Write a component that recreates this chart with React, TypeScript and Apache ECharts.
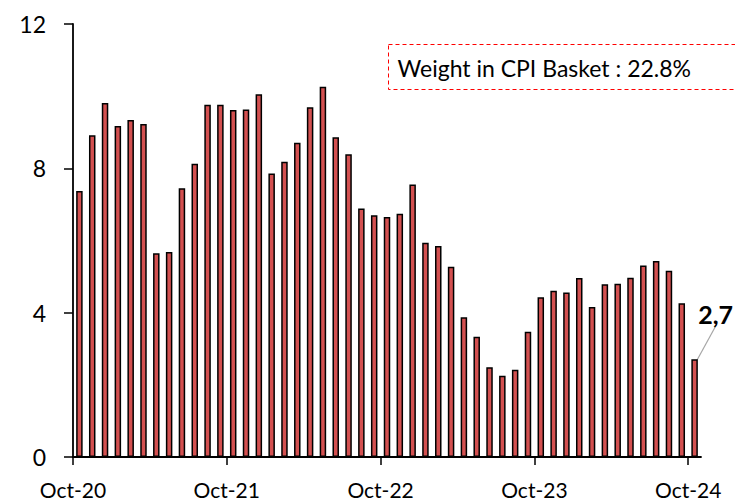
import React, { useEffect, useRef } from "react";
import * as echarts from "echarts";

const months: string[] = [];
const monthNames = ["Oct", "Nov", "Dec", "Jan", "Feb", "Mar", "Apr", "May", "Jun", "Jul", "Aug", "Sep"];
for (let i = 0; i < 49; i++) {
  const yr = 20 + Math.floor((i + 9) / 12);
  months.push(monthNames[i % 12] + "-" + yr);
}

const values: number[] = [
  7.37, 8.92, 9.81, 9.17, 9.34, 9.23, 5.65, 5.68, 7.45, 8.13, 9.76, 9.76,
  9.62, 9.63, 10.05, 7.86, 8.18, 8.71, 9.69, 10.26, 8.86, 8.39, 6.89, 6.7,
  6.65, 6.74, 7.55, 5.94, 5.85, 5.27, 3.87, 3.33, 2.49, 2.25, 2.42, 3.47,
  4.43, 4.61, 4.56, 4.96, 4.16, 4.79, 4.8, 4.97, 5.31, 5.43, 5.16, 4.26,
  2.71,
];

const tickLabels: string[] = ["Oct-20", "Oct-21", "Oct-22", "Oct-23", "Oct-24"];
const tickPositions: number[] = [0, 12, 24, 36, 48];
const lastLabel = "2,7";
const noteText = "Weight in CPI Basket : 22.8%";

const FONT = "Lato, 'Open Sans', sans-serif";

export default function App() {
  const ref = useRef<HTMLDivElement>(null);
  useEffect(() => {
    if (!ref.current) return;
    const chart = echarts.init(ref.current, undefined, { renderer: "svg" });
    const data = values.map((v, i) =>
      i === values.length - 1
        ? {
            value: v,
            label: {
              show: true,
              position: "top",
              formatter: lastLabel,
              fontFamily: FONT,
              fontWeight: "bold",
              fontSize: 25,
              color: "#000",
            },
            labelLine: { show: true, lineStyle: { color: "#A6A6A6", width: 1.2 } },
          }
        : v
    );
    chart.setOption({
      animation: false,
      textStyle: { fontFamily: FONT },
      grid: { left: 73, top: 24, right: 34, bottom: 44 },
      xAxis: [
        {
          type: "category",
          data: months,
          boundaryGap: true,
          axisLine: { show: true, lineStyle: { color: "#000", width: 1.8 } },
          axisTick: { show: false },
          axisLabel: { show: false },
          splitLine: { show: false },
        },
        {
          type: "value",
          position: "bottom",
          min: 0,
          max: 49,
          interval: 12,
          axisLine: { show: false },
          axisTick: {
            show: true,
            length: 8,
            lineStyle: { color: "#000", width: 1.5 },
            customValues: tickPositions,
          },
          axisLabel: {
            show: true,
            margin: 22,
            fontSize: 21,
            fontFamily: FONT,
            color: "#000",
            customValues: tickPositions,
            formatter: (v: number) => {
              const idx = tickPositions.indexOf(v);
              return idx >= 0 ? tickLabels[idx] : "";
            },
          },
          splitLine: { show: false },
        },
      ],
      yAxis: {
        type: "value",
        min: 0,
        max: 12,
        interval: 4,
        axisLine: { show: true, lineStyle: { color: "#000", width: 1.8 } },
        axisTick: { show: true, length: 9, lineStyle: { color: "#000", width: 1.5 } },
        axisLabel: { margin: 27, fontSize: 23, fontFamily: FONT, color: "#000" },
        splitLine: { show: false },
      },
      series: [
        {
          type: "bar",
          xAxisIndex: 0,
          data,
          barWidth: 6.5,
          itemStyle: { color: "#D35050", borderColor: "#000", borderWidth: 1.5 },
          labelLayout: (p: any) => (p.dataIndex === values.length - 1 ? { dx: 21, dy: -28 } : {}),
        },
      ],
      graphic: [
        {
          type: "group",
          left: 388,
          top: 44,
          children: [
            {
              type: "rect",
              shape: { x: 0, y: 0, width: 360, height: 45 },
              style: { fill: "#fff", stroke: "#FF0000", lineWidth: 1, lineDash: [4, 3] },
            },
            {
              type: "text",
              x: 9,
              y: 23,
              style: {
                text: noteText,
                fontFamily: FONT,
                fontSize: 23,
                fill: "#000",
                verticalAlign: "middle",
              },
            },
          ],
        },
      ],
    });
    return () => chart.dispose();
  }, []);
  return <div ref={ref} style={{ width: 735, height: 501, position: "absolute", left: 0, top: 0 }} />;
}
